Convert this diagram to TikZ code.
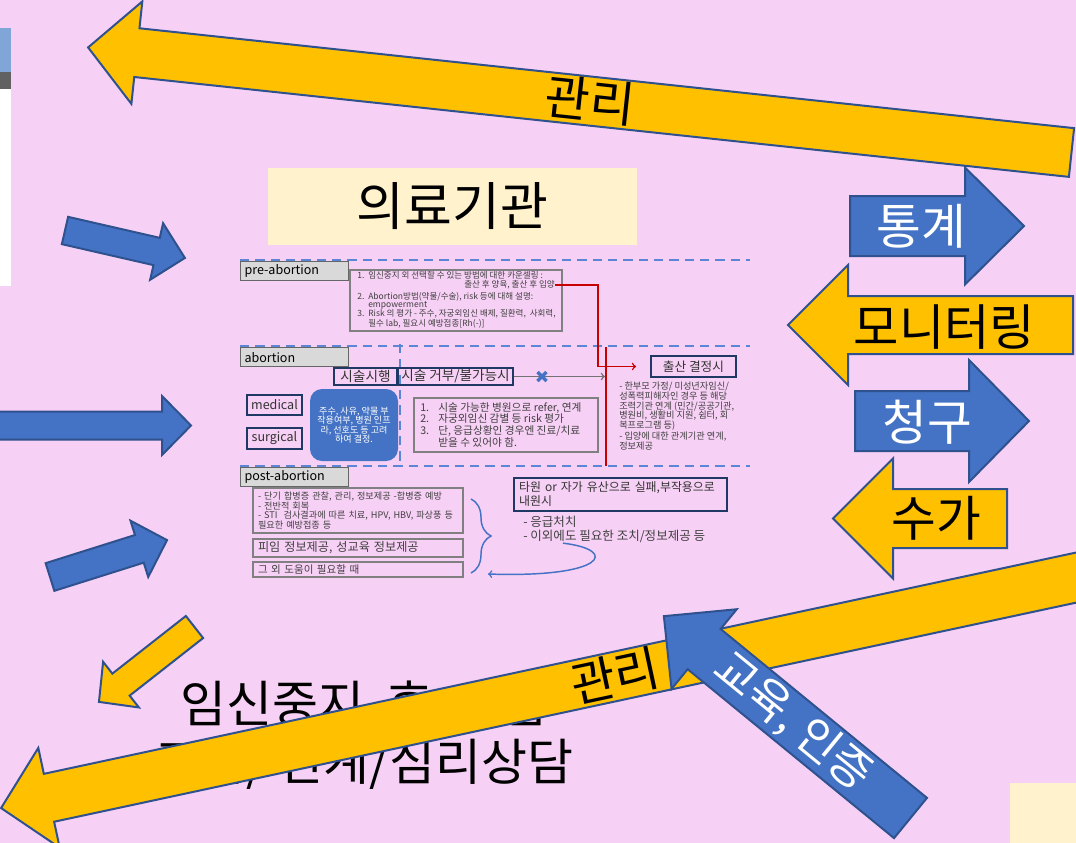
\documentclass[tikz,border=0pt]{standalone}
\usepackage{fontspec}
\setmainfont{Noto Sans CJK KR}
\usepackage{tikz}
\usetikzlibrary{arrows,shapes,positioning,decorations.pathreplacing}
\usepackage{xcolor}
\definecolor{bgpink}{RGB}{247,208,245}
\definecolor{arryellow}{RGB}{255,192,0}
\definecolor{arrblue}{RGB}{68,114,196}
\definecolor{arredge}{RGB}{47,82,143}
\definecolor{navy}{RGB}{32,56,100}
\definecolor{boxgray}{RGB}{217,217,217}
\definecolor{txtgray}{RGB}{64,64,64}
\definecolor{cream}{RGB}{255,242,204}
\definecolor{sepblue}{RGB}{91,134,212}
\definecolor{linered}{RGB}{200,0,0}
\definecolor{panelblue}{RGB}{127,166,214}
\tikzstyle{yarrow} = [fill=arryellow, draw=arredge, line width=1.5pt]
\tikzstyle{barrow} = [fill=arrblue, draw=arredge, line width=1.5pt]
\tikzstyle{bigtxt} = [inner sep=0pt, font=\fontsize{36.5}{40}\selectfont]
\tikzstyle{sepline} = [sepblue, line width=1.5pt, dash pattern=on 7pt off 4.5pt]
\tikzstyle{tagbox} = [draw=black!60, fill=boxgray, line width=0.8pt, text width=75pt, inner xsep=3pt, inner ysep=0pt, minimum height=14.5pt, align=left, font=\fontsize{9.4}{11}\selectfont]
\tikzstyle{navybox} = [draw=navy, line width=1.4pt, minimum height=12.75pt, inner sep=0pt, text=black!80, font=\fontsize{10.2}{11}\selectfont]
\tikzstyle{listbox} = [draw=black!50, line width=1pt, inner sep=0pt]
\tikzstyle{pretext} = [anchor=west, inner sep=0pt, text=txtgray, font=\fontsize{6.4}{7}\selectfont]
\tikzstyle{listtext} = [inner sep=0pt, align=left, text=txtgray, font=\fontsize{8}{8.8}\selectfont]
\tikzstyle{smalltext} = [inner sep=0pt, align=left, text=txtgray, font=\fontsize{6.9}{7.2}\selectfont]
\tikzstyle{redarrow} = [->, linered, line width=1.1pt, shorten >=10.5pt]
\tikzstyle{grayarrow} = [->, black!55, line width=1.1pt]
\tikzstyle{bluecurve} = [->, arrblue, line width=1.1pt]
\newcommand{\prenum}[1]{\makebox[8.25pt][l]{#1}}
\newcommand{\abnum}[1]{\makebox[13.5pt][l]{#1}}
% block arrow: style, tail, angle, length, shaft width, head width, head length
\newcommand{\blockarrow}[7]{%
  \begin{scope}[shift={(#2)}, rotate=#3]
    \draw[#1] (0,-#5/2) -- (#4-#7,-#5/2) -- (#4-#7,-#6/2) -- (#4,0)
      -- (#4-#7,#6/2) -- (#4-#7,#5/2) -- (0,#5/2) -- cycle;
  \end{scope}}

\begin{document}
\begin{tikzpicture}[x=0.75pt, y=-0.75pt]
\useasboundingbox (0,0) rectangle (1076,843);
\clip (0,0) rectangle (1076,843);
\fill[bgpink] (0,0) rectangle (1076,843);

% side panels
\fill[white] (0,28) rectangle (11,286);
\fill[panelblue] (0,28) rectangle (11,72);
\fill[black!62] (0,72) rectangle (11,89);
\fill[cream] (1010,783) rectangle (1076,843);

% title
\node[fill=cream, minimum width=276.75pt, minimum height=57.75pt, inner sep=0pt, font=\fontsize{39}{42}\selectfont] (hospital) at (452.5,206.5) {의료기관};

% section lines
\draw[sepline] (240,260) -- (750,260);
\draw[sepline] (240,346) -- (750,346);
\draw[sepline] (240,466) -- (750,466);
\draw[sepline] (400,344) -- (400,462);

\node[tagbox, anchor=north west] (pretag) at (240,261) {pre-abortion};
\node[tagbox, anchor=north west] (abtag) at (240,347) {abortion};
\node[tagbox, anchor=north west] (posttag) at (240,467) {post-abortion};

% pre-abortion
\node[listbox, minimum width=159pt, minimum height=45.75pt] (prebox) at (456,300.5) {};
\node[pretext] (pre1) at (357,275.5) {\prenum{1.}임신중지 외 선택할 수 있는 방법에 대한 카운셀링 :};
\node[pretext, anchor=east] (pre2) at (555,285) {출산 후 양육, 출산 후 입양};
\node[pretext] (pre3) at (357,297) {\prenum{2.}Abortion방법(약물/수술), risk 등에 대해 설명:};
\node[pretext] (pre4) at (357,305.5) {\prenum{}empowerment};
\node[pretext] (pre5) at (357,314) {\prenum{3.}Risk 의 평가 - 주수, 자궁외임신 배제, 질환력,\ \ 사회력,};
\node[pretext] (pre6) at (357,323.5) {\prenum{}필수 lab, 필요시 예방접종[Rh(-)]};

% abortion
\node[navybox, minimum width=47.25pt] (dotreat) at (365.5,376.5) {시술시행};
\node[navybox, minimum width=86.25pt] (refuse) at (455.5,376.5) {시술 거부/불가능시};
\node[navybox, minimum width=41.25pt, minimum height=15pt, font=\fontsize{9.4}{11}\selectfont] (medical) at (274.5,405) {medical};
\node[navybox, minimum width=41.25pt, minimum height=15.75pt, font=\fontsize{9.4}{11}\selectfont] (surgical) at (274.5,438.5) {surgical};
\node[fill=arrblue, rounded corners=9pt, minimum width=66pt, minimum height=54pt, inner sep=0pt, text=white, align=center, font=\fontsize{6.8}{7}\selectfont] (choose) at (354,425) {주수, 사유, 약물 부\\작용여부, 병원 인프\\라, 선호도 등 고려\\하여 결정.};
\node[listbox, minimum width=138pt, minimum height=40.5pt] (refer) at (506,425) {};
\node[listtext, anchor=north west] (refertxt) at (420,402) {\abnum{1.}시술 가능한 병원으로 refer, 연계\\\abnum{2.}자궁외임신 감별 등 risk 평가\\\abnum{3.}단, 응급상황인 경우엔 진료/치료\\\abnum{}받을 수 있어야 함.};

\coordinate (redbar) at (605,376.5);
\draw[grayarrow] (refuse.east) -- (redbar);
\draw[arrblue, line width=2.6pt] (537.5,372) -- (546.5,381) (537.5,381) -- (546.5,372);
\draw[linered, line width=1.1pt] (606,347) -- (606,466);

\node[navybox, minimum width=63.75pt, minimum height=15.75pt, font=\fontsize{9.5}{11}\selectfont] (birth) at (693.5,366.5) {출산 결정시};
\draw[redarrow] (pre2.east) -- ++(43,0) |- (birth.west);
\node[smalltext, anchor=north west] (birthtxt) at (619,382) {- 한부모 가정/ 미성년자임신/\\성폭력피해자인 경우 등 해당\\조력기관 연계 (민간/공공기관,\\병원비, 생활비 지원, 쉼터, 회\\복프로그램 등)\\[1.5pt]- 입양에 대한 관계기관 연계,\\정보제공};

% post-abortion
\node[listbox, minimum height=33.75pt, text width=150pt, inner xsep=3.75pt, align=left, text=txtgray, font=\fontsize{6.85}{7.4}\selectfont] (care) at (358,510.5) {- 단기 합병증 관찰, 관리, 정보제공 -합병증 예방\\- 전반적 회복\\- STI\ \ 검사결과에 따른 치료, HPV, HBV, 파상풍 등\\필요한 예방접종 등};
\node[listbox, minimum height=13.5pt, text width=150pt, inner xsep=3.75pt, align=left, text=txtgray, font=\fontsize{9.1}{10}\selectfont] (contra) at (358,548) {피임 정보제공, 성교육 정보제공};
\node[listbox, minimum height=11.25pt, text width=150pt, inner xsep=3.75pt, align=left, text=txtgray, font=\fontsize{7.9}{9}\selectfont] (more) at (358,569.5) {그 외 도움이 필요할 때};
\draw[arrblue, line width=1.1pt, decorate, decoration={brace, amplitude=15pt}] (471,499) -- (471,573);

\node[navybox, minimum width=159.75pt, minimum height=24.75pt, text width=152pt, inner xsep=3.5pt, align=left, font=\fontsize{8.95}{10.5}\selectfont] (fail) at (620.5,494.5) {타원 or 자가 유산으로 실패,부작용으로\\내원시};
\node[listtext, anchor=north west, font=\fontsize{9.4}{10.5}\selectfont] (firstaid) at (523,516) {- 응급처치\\- 이외에도 필요한 조치/정보제공 등};
\coordinate (backhere) at (488,574);
\draw[bluecurve] ([xshift=30pt]firstaid.south west) .. controls (620,550) and (605,578) .. (backhere);

% lower title
\node[align=center, font=\fontsize{37.5}{43.5}\selectfont] (aftercare) at (364,735) {임신중지\ \ 후\ \ 개입\\교육/ 연계/심리상담};

% left arrows
\blockarrow{barrow}{65,230.5}{-12.9}{123}{28}{58}{29}
\blockarrow{barrow}{-20,425.5}{0}{211}{28}{59}{29}
\blockarrow{barrow}{50,577}{17.5}{122.7}{29}{59}{29}
\blockarrow{yarrow}{194.5,627}{218.1}{121.4}{28}{58}{28}

% right arrows
\blockarrow{barrow}{850,226}{0}{174}{60}{117}{59}
\node[bigtxt, text=white] (stat) at (921,226) {통계};
\blockarrow{yarrow}{1073,325}{180}{285}{58}{120}{60}
\node[bigtxt, font=\fontsize{37}{40}\selectfont] (monitor) at (944.5,327) {모니터링};
\blockarrow{barrow}{855,421}{0}{174}{60}{122}{60}
\node[bigtxt, text=white] (claim) at (927.5,422) {청구};
\blockarrow{yarrow}{1007,518.5}{180}{174}{59}{120}{60}
\node[bigtxt] (fee) at (936,518) {수가};

% management arrows
\blockarrow{yarrow}{1071.5,152.5}{173.9}{989}{49}{103}{49}
\node[bigtxt, rotate=-6.1] (manage) at (590,100) {관리};
\blockarrow{yarrow}{1125.5,567}{192.1}{1150}{49}{102}{49}
\node[bigtxt, rotate=12.1] (manage2) at (615,676) {관리};
\blockarrow{barrow}{910.5,818}{140.7}{318.7}{52}{103}{52}
\node[bigtxt, text=white, font=\fontsize{34}{38}\selectfont, rotate=-39.3] (edu) at (793,722) {교육, 인증};
\end{tikzpicture}
\end{document}
